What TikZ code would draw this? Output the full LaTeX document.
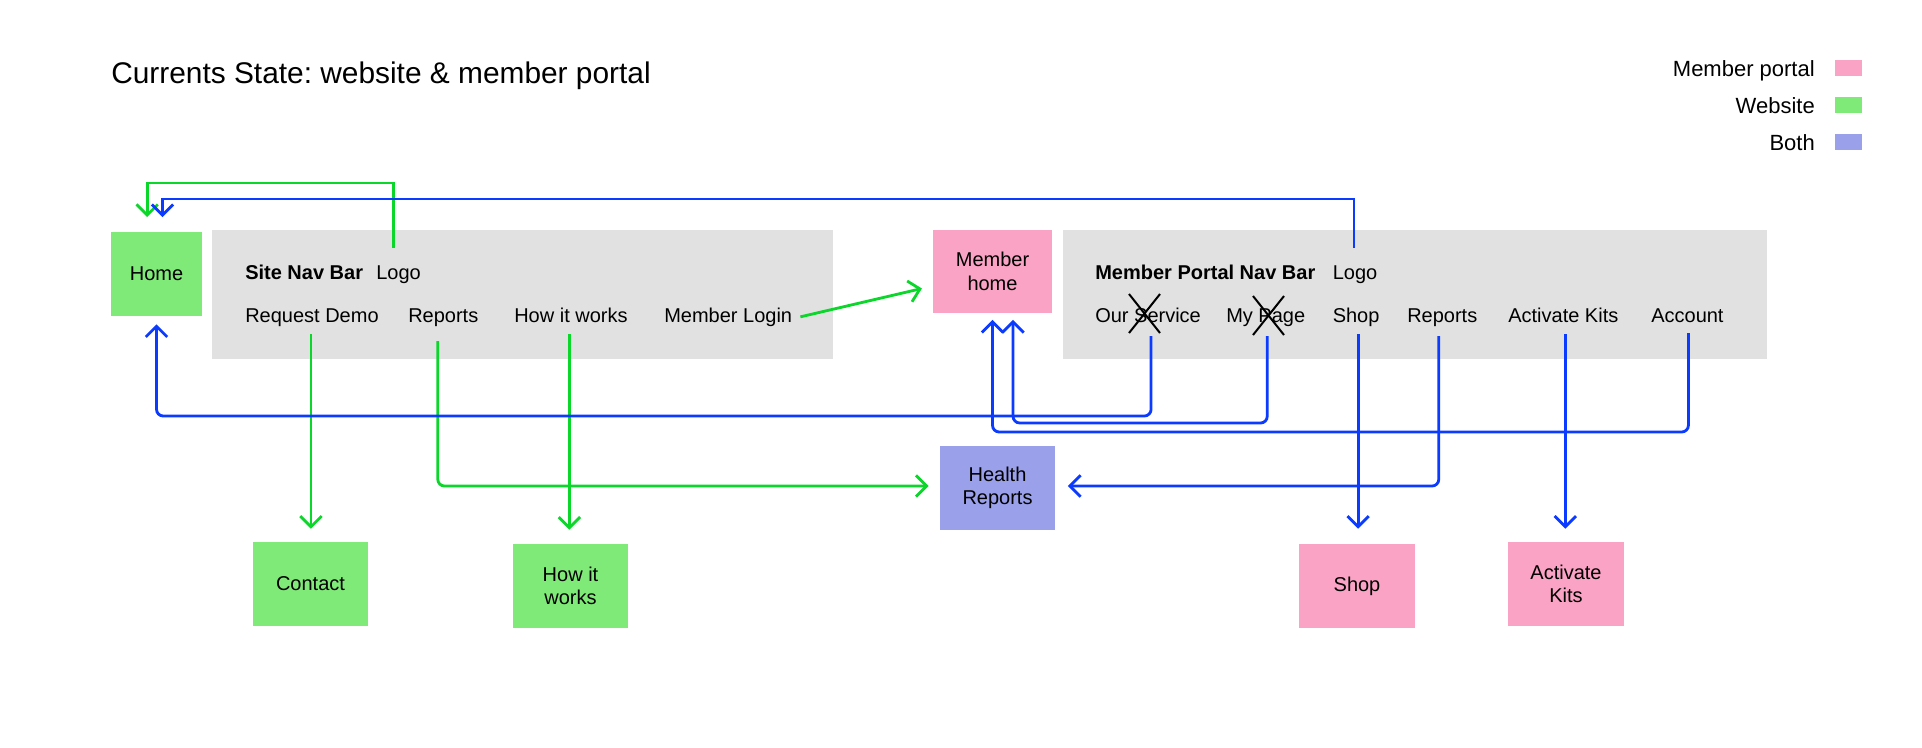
\documentclass[tikz,border=0pt]{standalone}
\usepackage{fontspec}
\setmainfont{Liberation Sans}
\usetikzlibrary{arrows.meta,calc,positioning}
\frenchspacing

\definecolor{webgreen}{HTML}{80EA78}
\definecolor{portalpink}{HTML}{FBA3C5}
\definecolor{bothblue}{HTML}{9AA0E9}
\definecolor{navgray}{HTML}{E1E1E1}
\definecolor{linkgreen}{HTML}{0BD62A}
\definecolor{linkblue}{HTML}{0A3BFF}

\begin{document}
\begin{tikzpicture}[
    x=0.75pt, y=-0.75pt,
    pagebox/.style={rectangle, inner sep=2pt, align=center, minimum width=86.5pt, minimum height=63pt, font=\fontsize{15}{17.5}\selectfont},
    websitebox/.style={pagebox, fill=webgreen},
    portalbox/.style={pagebox, fill=portalpink},
    bothbox/.style={pagebox, fill=bothblue},
    navbar/.style={rectangle, fill=navgray, inner sep=0pt, minimum height=96.75pt},
    navitem/.style={inner sep=0pt, anchor=base west, font=\fontsize{15}{17.5}\selectfont},
    navtitle/.style={navitem, font=\fontsize{15}{17.5}\selectfont\bfseries},
    swatch/.style={rectangle, fill=#1, minimum width=20.25pt, minimum height=12pt, inner sep=0pt},
    legendtext/.style={inner sep=0pt, anchor=base east, font=\fontsize{16.5}{19}\selectfont},
    linkline/.style={line width=2.1pt, -{Straight Barb[length=8pt,width=16pt]}, rounded corners=5pt},
    greenlink/.style={linkline, draw=linkgreen},
    bluelink/.style={linkline, draw=linkblue},
    strike/.style={line width=1.5pt, draw=black}
]
\fill[white] (0,0) rectangle (1922,747);
\useasboundingbox (0,0) rectangle (1922,747);

% Title
\node[inner sep=0pt, anchor=base west, font=\fontsize{22.4}{26}\selectfont] (title) at (111,83) {Currents State: website \& member portal};

% Legend
\node[legendtext] (lgportal) at (1815,76) {Member portal};
\node[legendtext] (lgweb) at (1815,113) {Website};
\node[legendtext] (lgboth) at (1815,150) {Both};
\node[swatch=portalpink] (swportal) at (1848.5,68) {};
\node[swatch=webgreen] (swweb) at (1848.5,105) {};
\node[swatch=bothblue] (swboth) at (1848.5,142) {};

% Nav bars
\node[navbar, minimum width=465.75pt] (sitenav) at (522.5,294.5) {};
\node[navbar, minimum width=528.4pt] (portalnav) at (1414.75,294.5) {};

% Site nav items
\node[navtitle] (sitetitle) at (245,279) {Site Nav Bar};
\node[navitem] (slogo) at (376,279) {Logo};
\node[navitem] (reqdemo) at (245,322) {Request Demo};
\node[navitem] (sreports) at (408,322) {Reports};
\node[navitem] (showit) at (514,322) {How it works};
\node[navitem] (mlogin) at (664,322) {Member Login};

% Member portal nav items
\node[navtitle] (portaltitle) at (1095,279) {Member Portal Nav Bar};
\node[navitem] (plogo) at (1332.5,279) {Logo};
\node[navitem] (oursvc) at (1095,322) {Our Service};
\node[navitem] (mypage) at (1226,322) {My Page};
\node[navitem] (pshop) at (1332.5,322) {Shop};
\node[navitem] (preports) at (1407,322) {Reports};
\node[navitem] (pkits) at (1508,322) {Activate Kits};
\node[navitem] (account) at (1651,322) {Account};

% Crossed out items
\draw[strike] (1129,294) -- (1160,333) (1160,294) -- (1129,333);
\draw[strike] (1253,296) -- (1284,335) (1284,296) -- (1253,335);

% Pages
\node[websitebox, minimum width=68.25pt] (home) at (156.5,274) {Home};
\node[portalbox, minimum width=89pt, minimum height=62.25pt] (mhome) at (992.5,271.5) {Member\\home};
\node[bothbox] (health) at (997.5,488) {Health\\Reports};
\node[websitebox] (contact) at (310.5,584) {Contact};
\node[websitebox] (howbox) at (570.5,586) {How it\\works};
\node[portalbox] (shopbox) at (1357,586) {Shop};
\node[portalbox] (kitsbox) at (1566,584) {Activate\\Kits};

% Website links
\draw[greenlink, sharp corners, shorten >=11pt] ($(slogo.base)+(-5,-31)$) -- ++(0,-65) -| ([xshift=-7pt]home.north);
\draw[greenlink] ($(reqdemo.base)+(-1,12)$) -- ($(reqdemo.base |- contact.north)+(-1,-13)$);
\draw[greenlink] ($(sreports.base)+(-5.5,19)$) |- ($(health.west)+(-11,-2)$);
\draw[greenlink] ($(showit.base)+(-1.5,12)$) -- ($(showit.base |- howbox.north)+(-1.5,-14)$);
\draw[greenlink] ($(mlogin.east)+(8,0)$) -- ($(mhome.west)+(-11,17)$);

% Member portal links
\draw[bluelink, sharp corners, shorten >=11pt] ($(plogo.base)+(-1,-31)$) -- ++(0,-49) -| ([xshift=4.5pt]home.north);
\draw[bluelink, shorten >=6pt] ($(oursvc.base)+(3,14)$) -- ++(0,80) -| (home.south);
\draw[bluelink, shorten >=5pt] ($(mypage.base)+(1.5,14)$) -- ++(0,87) -| ([xshift=15.4pt]mhome.south);
\draw[bluelink, shorten >=5pt] ($(account.base)+(1,11)$) -- ++(0,99) -| (mhome.south);
\draw[bluelink] ($(pshop.base)+(2,12)$) -- ($(pshop.base |- shopbox.north)+(2,-15)$);
\draw[bluelink] ($(preports.base)+(-3.5,14)$) |- ($(health.east)+(12.5,-2)$);
\draw[bluelink] ($(pkits.base)+(2,12)$) -- ($(pkits.base |- kitsbox.north)+(2,-13)$);

\end{tikzpicture}
\end{document}
